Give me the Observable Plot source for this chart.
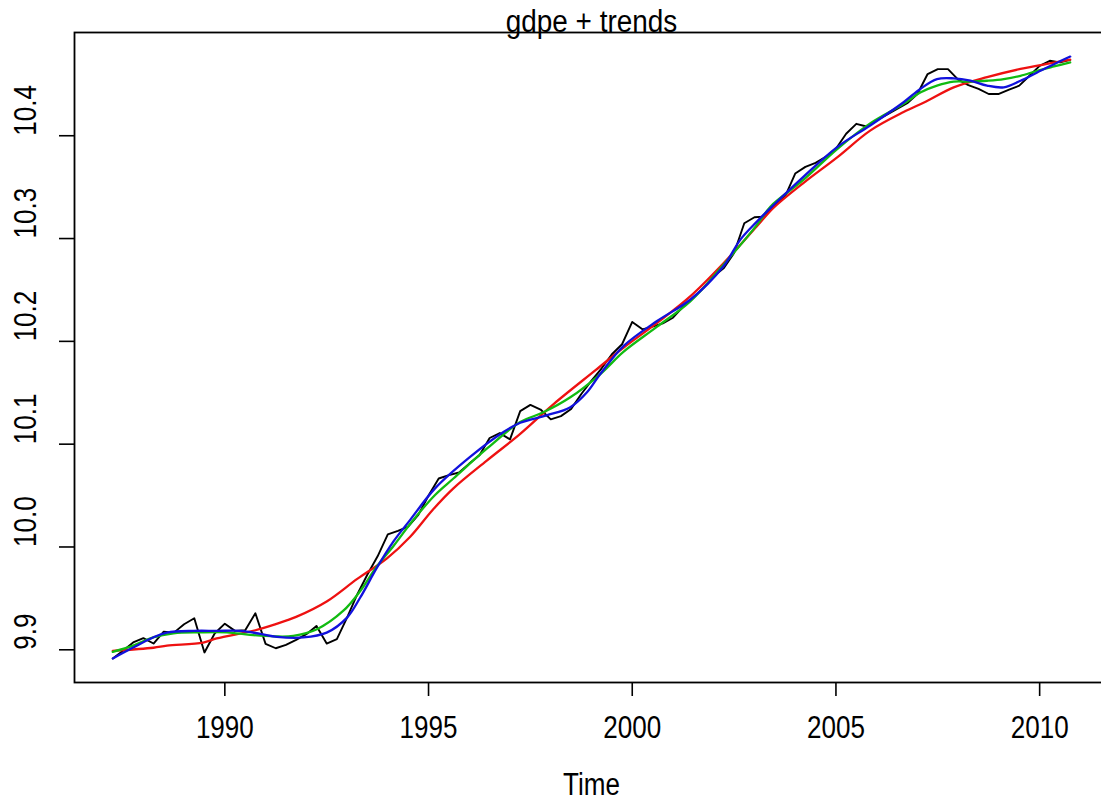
<!DOCTYPE html>
<html>
<head>
<meta charset="utf-8">
<script src="https://cdn.jsdelivr.net/npm/d3@7"></script>
<script src="https://cdn.jsdelivr.net/npm/@observablehq/plot@0.6"></script>
<style>
  html, body { margin: 0; padding: 0; background: #fff; overflow: hidden; }
  #chart svg { display: block; }
</style>
</head>
<body>
<div id="chart"></div>
<script>
// Quarterly series gdpe (log scale), first observation 1987 Q2
const gdpeStart = 1987.25;
const gdpeFrequency = 4;
const gdpe = [
  9.8916, 9.8990, 9.9071, 9.9113, 9.9061, 9.9177, 9.9167, 9.9248, 9.9307, 9.8974,
  9.9158, 9.9254, 9.9184, 9.9190, 9.9355, 9.9058, 9.9015, 9.9048, 9.9097, 9.9152,
  9.9232, 9.9061, 9.9103, 9.9313, 9.9538, 9.9732, 9.9909, 10.0122, 10.0157, 10.0199,
  10.0312, 10.0500, 10.0666, 10.0699, 10.0724, 10.0811, 10.0893, 10.1060, 10.1108, 10.1047,
  10.1321, 10.1382, 10.1337, 10.1241, 10.1273, 10.1343, 10.1488, 10.1618, 10.1738, 10.1875,
  10.1972, 10.2189, 10.2117, 10.2143, 10.2175, 10.2230, 10.2337, 10.2424, 10.2520, 10.2633,
  10.2714, 10.2859, 10.3149, 10.3207, 10.3214, 10.3326, 10.3407, 10.3632, 10.3697, 10.3736,
  10.3794, 10.3874, 10.4019, 10.4116, 10.4090, 10.4148, 10.4206, 10.4261, 10.4316, 10.4406,
  10.4600, 10.4648, 10.4648, 10.4545, 10.4493, 10.4455, 10.4406, 10.4406, 10.4448, 10.4487,
  10.4583, 10.4680, 10.4729, 10.4713, 10.4738
];

// Trend 1 (red): smoothest fit
const redTime = [1987.25, 1988.25, 1988.58, 1989.47, 1989.80, 1990.75, 1991.25, 1991.75, 1992.50, 1993.25,
  1993.98, 1994.55, 1995.10, 1995.61, 1996.43, 1997.25, 1998.07, 1999.10, 1999.79, 2000.61,
  2001.43, 2002.24, 2003.06, 2003.47, 2004.20, 2005.03, 2005.84, 2006.66, 2007.20, 2007.89,
  2008.71, 2009.53, 2010.35, 2010.75];
const redValue = [9.8990, 9.9020, 9.9040, 9.9070, 9.9110, 9.9190, 9.9250, 9.9320, 9.9470, 9.9690,
  9.9890, 10.0100, 10.0360, 10.0570, 10.0840, 10.1100, 10.1390, 10.1720, 10.1940, 10.2180,
  10.2440, 10.2760, 10.3120, 10.3300, 10.3540, 10.3790, 10.4050, 10.4230, 10.4330, 10.4470,
  10.4570, 10.4650, 10.4710, 10.4740];

// Trend 2 (green): medium smoothing
const greenTime = [1987.25, 1987.75, 1988.24, 1988.74, 1989.39, 1990.05, 1990.62, 1991.23, 1991.68, 1992.26,
  1992.91, 1993.32, 1993.73, 1994.14, 1994.60, 1995.16, 1995.61, 1996.43, 1997.25, 1997.82,
  1998.48, 1999.21, 1999.79, 2000.61, 2001.43, 2002.24, 2003.06, 2003.39, 2004.20, 2005.03,
  2005.84, 2006.66, 2007.07, 2007.48, 2007.89, 2008.30, 2008.71, 2009.12, 2009.53, 2009.94,
  2010.35, 2010.75];
const greenValue = [9.8980, 9.9040, 9.9120, 9.9160, 9.9170, 9.9170, 9.9145, 9.9130, 9.9135, 9.9200,
  9.9380, 9.9570, 9.9810, 10.0010, 10.0250, 10.0506, 10.0666, 10.0956, 10.1215, 10.1310,
  10.1456, 10.1680, 10.1900, 10.2143, 10.2392, 10.2746, 10.3133, 10.3310, 10.3570, 10.3870,
  10.4120, 10.4310, 10.4420, 10.4487, 10.4526, 10.4526, 10.4535, 10.4551, 10.4583, 10.4632,
  10.4674, 10.4713];

// Trend 3 (blue): least smoothing
const blueTime = [1987.25, 1987.75, 1988.24, 1988.58, 1989.23, 1989.80, 1990.38, 1990.87, 1991.28, 1991.93,
  1992.50, 1993.00, 1993.32, 1993.73, 1994.14, 1994.55, 1995.16, 1996.02, 1996.84, 1997.25,
  1997.90, 1998.48, 1998.89, 1999.21, 1999.79, 2000.61, 2001.43, 2002.24, 2002.65, 2003.06,
  2003.47, 2004.20, 2005.03, 2005.84, 2006.66, 2007.07, 2007.48, 2007.89, 2008.30, 2008.71,
  2009.12, 2009.53, 2009.94, 2010.35, 2010.75];
const blueValue = [9.8916, 9.9022, 9.9120, 9.9167, 9.9184, 9.9184, 9.9184, 9.9155, 9.9126, 9.9120,
  9.9167, 9.9313, 9.9506, 9.9796, 10.0054, 10.0264, 10.0570, 10.0876, 10.1118, 10.1208,
  10.1280, 10.1360, 10.1505, 10.1680, 10.1956, 10.2198, 10.2407, 10.2730, 10.2987, 10.3165,
  10.3326, 10.3600, 10.3890, 10.4100, 10.4326, 10.4455, 10.4551, 10.4558, 10.4535, 10.4487,
  10.4471, 10.4535, 10.4616, 10.4696, 10.4770];

const xTicks = [1990, 1995, 2000, 2005, 2010];
const yTicks = [9.9, 10.0, 10.1, 10.2, 10.3, 10.4];

const titleText = "gdpe + trends";
const xLabel = "Time";

const gdpeRows = gdpe.map((v, i) => ({t: gdpeStart + i / gdpeFrequency, v}));
const toRows = (ts, vs) => ts.map((t, i) => ({t, v: vs[i]}));
const redRows = toRows(redTime, redValue);
const greenRows = toRows(greenTime, greenValue);
const blueRows = toRows(blueTime, blueValue);

// R-style axis extension: 4% beyond the data range on each side
const pad = (lo, hi) => { const d = (hi - lo) * 0.04; return [lo - d, hi + d]; };
const tExtent = d3.extent(gdpeRows, d => d.t);
const vExtent = d3.extent([...gdpe, ...redValue, ...greenValue, ...blueValue]);

const font = "'Liberation Sans', Arimo, Arial, sans-serif";
const fs = 31;

const chart = Plot.plot({
  width: 1101,
  height: 803,
  marginLeft: 74,
  marginRight: -7,
  marginTop: 32,
  marginBottom: 121,
  style: {fontFamily: font, fontSize: fs + "px", color: "black", background: "white"},
  x: {domain: pad(...tExtent), axis: null},
  y: {domain: pad(...vExtent), axis: null},
  marks: [
    Plot.frame({stroke: "black", strokeWidth: 1.8}),
    Plot.axisX({ticks: xTicks, anchor: "bottom", tickSize: 14, tickPadding: 19,
      tickFormat: d => String(d), fontSize: fs, strokeWidth: 1.6, label: null}),
    Plot.axisY({ticks: yTicks, anchor: "left", tickSize: 15, tickFormat: () => "",
      strokeWidth: 1.6, label: null}),
    Plot.text(yTicks, {y: d => d, text: d => d.toFixed(1), frameAnchor: "left",
      dx: -48.5, rotate: -90, lineAnchor: "middle", fontSize: fs, fill: "black"}),
    Plot.line(gdpeRows, {x: "t", y: "v", stroke: "black", strokeWidth: 1.9}),
    Plot.line(redRows, {x: "t", y: "v", stroke: "#ee1111", strokeWidth: 2.3, curve: "catmull-rom"}),
    Plot.line(greenRows, {x: "t", y: "v", stroke: "#11bb11", strokeWidth: 2.3, curve: "catmull-rom"}),
    Plot.line(blueRows, {x: "t", y: "v", stroke: "#1111dd", strokeWidth: 2.3, curve: "catmull-rom"}),
    Plot.text([titleText], {frameAnchor: "top", lineAnchor: "bottom", dy: -1, fontSize: fs,
      fill: "black", className: "chart-title"}),
    Plot.text([xLabel], {frameAnchor: "bottom", lineAnchor: "middle", dy: 103, fontSize: fs, fill: "black"})
  ]
});

document.getElementById("chart").append(chart);

// The device font is drawn tall and narrow: condense every label along its reading direction.
const condense = (el, factor) => {
  const len = el.getComputedTextLength();
  if (!(len > 0)) return;
  el.setAttribute("textLength", (len * factor).toFixed(2));
  el.setAttribute("lengthAdjust", "spacingAndGlyphs");
};
chart.querySelectorAll("text").forEach(el => {
  const isTitle = el.closest(".chart-title") !== null;
  condense(el, isTitle ? 0.9 : 0.84);
});
</script>
</body>
</html>
